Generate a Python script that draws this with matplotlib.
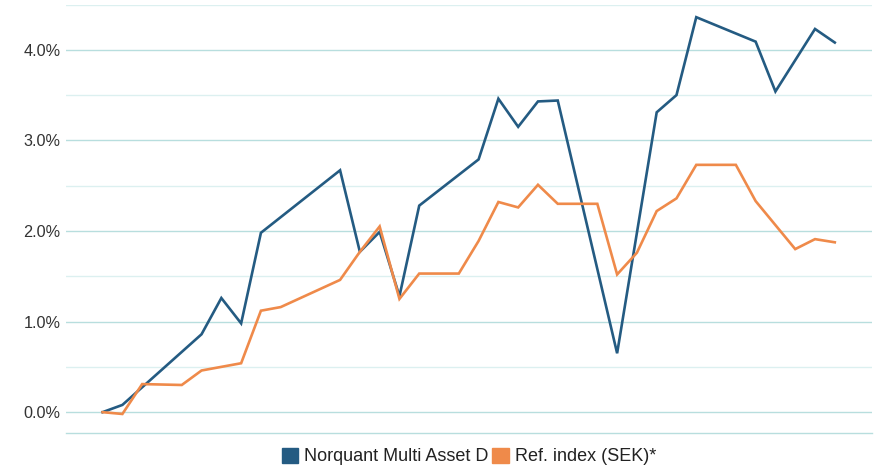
import matplotlib
matplotlib.use("Agg")
import matplotlib.pyplot as plt
from matplotlib.patches import Patch
from matplotlib.ticker import FuncFormatter, MultipleLocator

# data (percent), x = observation index
fund_x = [0, 1, 5, 6, 7, 8, 12, 13, 14, 15, 16, 19, 20, 21, 22, 23, 26, 28, 29, 30, 33, 34, 36, 37]
fund_y = [0.00, 0.08, 0.86, 1.26, 0.98, 1.98, 2.67, 1.77, 1.99, 1.28, 2.28, 2.79, 3.46, 3.15, 3.43, 3.44,
          0.65, 3.31, 3.50, 4.36, 4.09, 3.54, 4.23, 4.08]
ref_x = [0, 1, 2, 4, 5, 6, 7, 8, 9, 12, 13, 14, 15, 16, 18, 19, 20, 21, 22, 23, 25, 26, 27, 28, 29, 30,
         32, 33, 35, 36, 37]
ref_y = [0.00, -0.02, 0.31, 0.30, 0.46, 0.50, 0.54, 1.12, 1.16, 1.46, 1.77, 2.05, 1.25, 1.53, 1.53, 1.89,
         2.32, 2.26, 2.51, 2.30, 2.30, 1.52, 1.76, 2.22, 2.36, 2.73, 2.73, 2.33, 1.80, 1.91, 1.875]
labels = ["Norquant Multi Asset D", "Ref. index (SEK)*"]
blue = "#245b82"
orange = "#ef8a4a"

plt.rcParams["font.family"] = ["Liberation Sans", "DejaVu Sans"]

fig = plt.figure(figsize=(8.74, 4.67), dpi=100)
ax = fig.add_axes([66 / 874, 34 / 467, 806 / 874, 428.5 / 467])

ax.plot(fund_x, fund_y, color=blue, lw=1.9, solid_joinstyle="miter", zorder=3)
ax.plot(ref_x, ref_y, color=orange, lw=1.9, solid_joinstyle="miter", zorder=3)

ax.set_xlim(-1.85, 38.88)
ax.set_ylim(-0.23, 4.5)
ax.yaxis.set_major_locator(MultipleLocator(1.0))
ax.yaxis.set_minor_locator(MultipleLocator(0.5))
ax.yaxis.set_major_formatter(FuncFormatter(lambda v, p: f"{v:.1f}%"))
ax.grid(axis="y", which="major", color="#b8dede", lw=1.0)
ax.grid(axis="y", which="minor", color="#dcf0f0", lw=1.0)
ax.set_axisbelow(True)
ax.set_xticks([])
ax.tick_params(axis="y", which="both", length=0, pad=4, labelsize=11.7, labelcolor="#333333")

for side in ["top", "right", "left"]:
    ax.spines[side].set_visible(False)
ax.spines["bottom"].set_color("#b8dede")
ax.spines["bottom"].set_linewidth(1.0)

# legend under the plot, squares as handles
handles = [Patch(color=blue), Patch(color=orange)]
fig.legend(handles, labels, loc="center", bbox_to_anchor=(469 / 874, 1 - 456.5 / 467), ncol=2,
           frameon=False, fontsize=13, handlelength=0.92, handleheight=0.92, handletextpad=0.33,
           columnspacing=0.2, borderpad=0, labelcolor="#222222")

fig.savefig("out.png", dpi=100)
